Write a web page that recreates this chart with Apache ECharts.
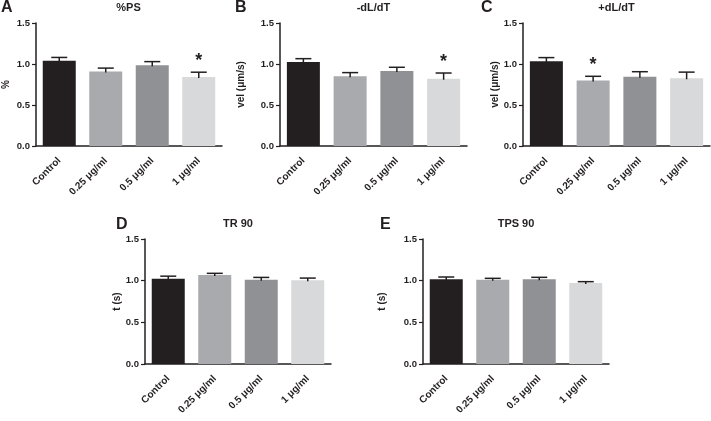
<!DOCTYPE html>
<html>
<head>
<meta charset="utf-8">
<script src="https://cdn.jsdelivr.net/npm/echarts@6/dist/echarts.min.js"></script>
<style>html,body{margin:0;padding:0;background:#fff}#c{width:711px;height:421px}</style>
</head>
<body>
<div id="c"></div>
<script>
var categories = ['Control', '0.25 μg/ml', '0.5 μg/ml', '1 μg/ml'];
var yTicks = [0, 0.5, 1.0, 1.5];

var psMean = [1.04, 0.91, 0.984, 0.84];
var psErr = [0.04, 0.04, 0.045, 0.06];
var psStar = ['', '', '', '*'];

var negMean = [1.025, 0.85, 0.915, 0.82];
var negErr = [0.04, 0.045, 0.045, 0.07];
var negStar = ['', '', '', '*'];

var posMean = [1.033, 0.80, 0.846, 0.826];
var posErr = [0.045, 0.05, 0.06, 0.075];
var posStar = ['', '*', '', ''];

var trMean = [1.024, 1.068, 1.012, 1.004];
var trErr = [0.03, 0.02, 0.027, 0.027];
var trStar = ['', '', '', ''];

var tpsMean = [1.016, 1.012, 1.016, 0.971];
var tpsErr = [0.028, 0.016, 0.024, 0.017];
var tpsStar = ['', '', '', ''];

var barColors = ['#231f20', '#a8aaad', '#8f9194', '#d8d9da'];
var FONT = 'Liberation Sans, Arial, Helvetica, sans-serif';
var INK = '#231f20';

var panels = [
  {letter: 'A', title: '%PS', yName: '%', gap: 25, mean: psMean, err: psErr, star: psStar,
   grid: {left: 35, top: 23, width: 187, height: 123}, lx: 1, ly: 0},
  {letter: 'B', title: '-dL/dT', yName: 'vel (μm/s)', gap: 34, mean: negMean, err: negErr, star: negStar,
   grid: {left: 280, top: 23, width: 187, height: 123}, lx: 235, ly: 0},
  {letter: 'C', title: '+dL/dT', yName: 'vel (μm/s)', gap: 16, mean: posMean, err: posErr, star: posStar,
   grid: {left: 523, top: 23, width: 187, height: 123}, lx: 481, ly: 0},
  {letter: 'D', title: 'TR 90', yName: 't (s)', gap: 19, mean: trMean, err: trErr, star: trStar,
   grid: {left: 145, top: 239, width: 186, height: 125}, lx: 116, ly: 217},
  {letter: 'E', title: 'TPS 90', yName: 't (s)', gap: 36, mean: tpsMean, err: tpsErr, star: tpsStar,
   grid: {left: 423, top: 239, width: 186, height: 125}, lx: 380, ly: 217}
];

var grids = [], xAxes = [], yAxes = [], series = [], graphics = [];

panels.forEach(function (p, i) {
  grids.push(p.grid);
  xAxes.push({
    type: 'category', gridIndex: i, data: categories,
    axisLine: {lineStyle: {color: INK, width: 1.5}},
    axisTick: {alignWithLabel: true, length: 4, lineStyle: {color: INK, width: 1.2}},
    axisLabel: {rotate: 45, margin: 13, fontSize: 10, fontWeight: 'bold', color: INK, fontFamily: FONT, interval: 0}
  });
  yAxes.push({
    type: 'value', gridIndex: i, min: yTicks[0], max: yTicks[yTicks.length - 1], interval: 0.5,
    name: p.yName, nameLocation: 'middle', nameGap: p.gap, nameRotate: 90,
    nameTextStyle: {fontSize: 10, fontWeight: 'bold', color: INK, fontFamily: FONT},
    axisLine: {show: true, lineStyle: {color: INK, width: 1.5}},
    axisTick: {show: true, length: 4, lineStyle: {color: INK, width: 1.2}},
    splitLine: {show: false},
    axisLabel: {fontSize: 9.5, fontWeight: 'bold', color: INK, fontFamily: FONT, margin: 6,
      formatter: function (v) { return v.toFixed(1); }}
  });
  series.push({
    type: 'bar', xAxisIndex: i, yAxisIndex: i, barWidth: 33,
    data: p.mean.map(function (v, k) { return {value: v, itemStyle: {color: barColors[k]}}; }),
    silent: true
  });
  var stars = p.star;
  series.push({
    type: 'custom', xAxisIndex: i, yAxisIndex: i, z: 5, silent: true,
    data: p.mean.map(function (v, k) { return [k, v, p.err[k]]; }),
    renderItem: function (params, api) {
      var k = api.value(0), m = api.value(1), e = api.value(2);
      var base = api.coord([k, m]);
      var top = api.coord([k, m + e]);
      var hw = 8;
      var children = [
        {type: 'line', shape: {x1: base[0], y1: base[1] + 1, x2: top[0], y2: top[1]}, style: {stroke: INK, lineWidth: 1.5}},
        {type: 'line', shape: {x1: top[0] - hw, y1: top[1], x2: top[0] + hw, y2: top[1]}, style: {stroke: INK, lineWidth: 1.5}}
      ];
      var s = stars[params.dataIndex];
      if (s) {
        children.push({type: 'text', x: top[0], y: top[1] - 2,
          style: {text: s, fill: INK, font: 'bold 18px ' + FONT, textAlign: 'center', textVerticalAlign: 'bottom'}});
      }
      return {type: 'group', children: children};
    }
  });
  graphics.push({type: 'text', left: p.lx, top: p.ly,
    style: {text: p.letter, fill: INK, font: 'bold 16px ' + FONT}});
  graphics.push({type: 'text', x: p.grid.left + p.grid.width / 2, y: p.grid.top - 15,
    style: {text: p.title, fill: INK, font: 'bold 11px ' + FONT, textAlign: 'center', textVerticalAlign: 'middle'}});
});

var chart = echarts.init(document.getElementById('c'), null, {renderer: 'canvas'});
chart.setOption({
  animation: false,
  backgroundColor: '#fff',
  grid: grids, xAxis: xAxes, yAxis: yAxes, series: series, graphic: graphics
});
</script>
</body>
</html>
